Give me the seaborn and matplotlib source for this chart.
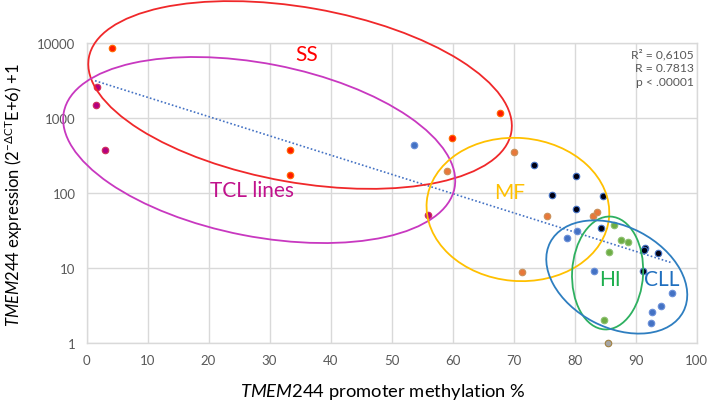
import numpy as np
import pandas as pd
import matplotlib
matplotlib.use("Agg")
import matplotlib.pyplot as plt
import seaborn as sns
from matplotlib.patches import Ellipse
from matplotlib.transforms import IdentityTransform
from matplotlib.ticker import FixedLocator, FixedFormatter

# ---------------- data ----------------
ss_x = [4.2, 33.4, 33.4, 59.9, 67.8]
ss_y = [8500, 374, 175, 535, 1166]
tcl_x = [1.8, 1.6, 3.1, 55.9]
tcl_y = [2570, 1490, 371, 51]
mf_x = [59.1, 70.0, 75.4, 83.0, 83.7, 71.3]
mf_y = [198, 356, 49, 50, 56, 8.8]
dark_x = [73.4, 80.2, 76.3, 80.2, 84.7, 84.3, 91.6, 91.4, 93.7, 91.2]
dark_y = [238, 169, 93, 61, 91, 34, 18.5, 17.4, 15.7, 9.2]
cll_x = [53.6, 80.4, 78.7, 83.1, 96.0, 94.1, 92.6, 92.5]
cll_y = [441, 31, 24.9, 9.2, 4.6, 3.15, 2.59, 1.87]
hi_x = [86.5, 87.6, 88.8, 85.7, 84.8]
hi_y = [37.4, 23.9, 22.2, 16.2, 2.05]
other_x = [85.5]
other_y = [1.0]

trend_x = [1.4, 95.7]
trend_y = [3140, 11.9]

x_ticks = [0, 10, 20, 30, 40, 50, 60, 70, 80, 90, 100]
y_ticks = [1, 10, 100, 1000, 10000]
y_tick_labels = ["1", "10", "100", "1000", "10000"]

group_labels = ["SS", "TCL lines", "MF", "HI", "CLL"]
label_x = [36.1, 27.2, 69.4, 85.7, 94.3]
label_y = [7130, 110, 103, 7.1, 7.1]
ellipse_cx = [35.0, 28.3, 70.7, 85.4, 86.9]
ellipse_cy = [2027, 374, 60.3, 8.58, 7.59]

stats_text = "R\u00b2 = 0,6105\nR = 0.7813\np < .00001"

# ---------------- style ----------------
sns.set_theme(style="white")
plt.rcParams["font.family"] = ["Lato", "DejaVu Sans"]
plt.rcParams["mathtext.fontset"] = "custom"
plt.rcParams["mathtext.rm"] = "Lato"
plt.rcParams["mathtext.it"] = "Lato:italic"
plt.rcParams["mathtext.bf"] = "Lato:bold"

fig = plt.figure(figsize=(7.09, 4.06), dpi=100)
ax = fig.add_axes([86.5 / 709, 62 / 406, (696.7 - 86.5) / 709, (344 - 44) / 406])

ax.set_yscale("log")
ax.set_xlim(0, 100)
ax.set_ylim(1, 10000)

ax.xaxis.set_major_locator(FixedLocator(x_ticks))
ax.yaxis.set_major_locator(FixedLocator(y_ticks))
ax.yaxis.set_major_formatter(FixedFormatter(y_tick_labels))
ax.yaxis.set_minor_locator(FixedLocator([]))
ax.grid(True, color="#D9D9D9", linewidth=1.0)
ax.set_axisbelow(True)
for sp in ax.spines.values():
    sp.set_color("#D9D9D9")
    sp.set_linewidth(1.0)
ax.tick_params(axis="both", length=0, labelsize=9.5, labelcolor="#595959", pad=8)

# trend line
ax.plot(trend_x, trend_y, linestyle=(0, (1, 1.3)), color="#4472C4", linewidth=1.2, zorder=2)

# points
groups = [
    (ss_x, ss_y, "#FF1A00", "#FF6A00"),
    (tcl_x, tcl_y, "#B5007F", "#D0305A"),
    (mf_x, mf_y, "#E8783A", "#C8905A"),
    (dark_x, dark_y, "#000014", "#4472C4"),
    (cll_x, cll_y, "#4472C4", "#6A8FD8"),
    (hi_x, hi_y, "#6EAD45", "#8CC070"),
    (other_x, other_y, "#A5A5A5", "#A08040"),
]
for gx, gy, fc, ec in groups:
    sns.scatterplot(x=gx, y=gy, ax=ax, color=fc, edgecolor=ec, linewidth=0.8, s=22, zorder=4,
                    legend=False, clip_on=False)

# ellipses (pixel sizes, centres in data coordinates)
ell_w = [429, 398, 183, 71, 150]
ell_h = [175, 173, 143, 113, 101]
ell_a = [-10, -11, -5, -3, -27.5]
ell_c = ["#F0282A", "#C838C0", "#FFC000", "#2EB060", "#2E7EC0"]
txt_c = ["#FF0000", "#C0128C", "#FFC000", "#1FAF4F", "#1F6FBF"]
fig.canvas.draw()
for i in range(len(group_labels)):
    cx, cy = ax.transData.transform((ellipse_cx[i], ellipse_cy[i]))
    e = Ellipse((cx, cy), ell_w[i], ell_h[i], angle=ell_a[i], fill=False,
                edgecolor=ell_c[i], linewidth=1.3, transform=IdentityTransform(), clip_on=False, zorder=3)
    fig.add_artist(e)
    ax.text(label_x[i], label_y[i], group_labels[i], color=txt_c[i], fontsize=15,
            ha="center", va="center", zorder=5)

ax.text(0.995, 0.985, stats_text, transform=ax.transAxes, ha="right", va="top",
        fontsize=8.7, color="#595959", linespacing=1.35, zorder=5)

ax.set_xlabel(r"$\it{TMEM244}$ promoter methylation %", fontsize=13.2, color="black")
ax.xaxis.set_label_coords(0.485, -0.128)
ax.set_ylabel(r"$\it{TMEM244}$ expression (2$^{-\Delta\mathrm{CT}}$E+6) +1", fontsize=12, color="black")
ax.yaxis.set_label_coords(-0.100, 0.497)

fig.savefig("out.png", dpi=100)
